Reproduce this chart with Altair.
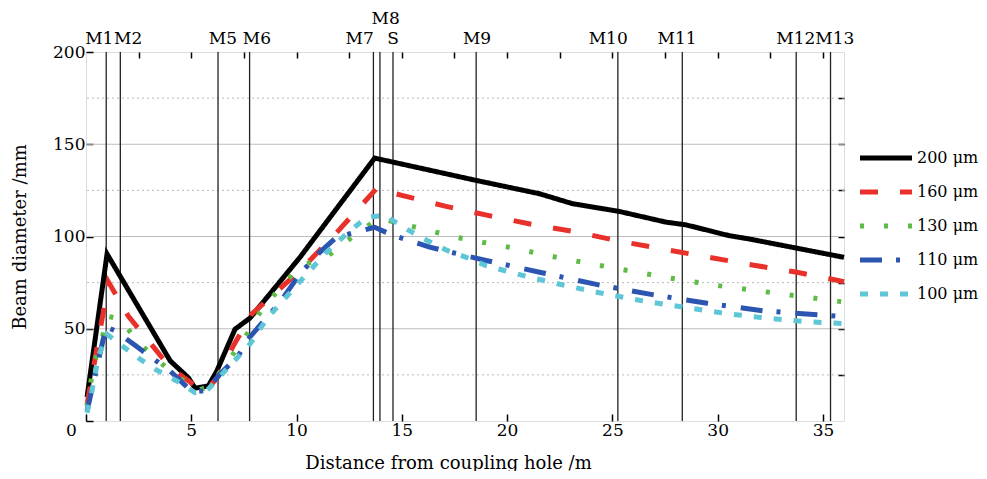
import altair as alt
import pandas as pd

# ---------------- data ----------------
series_names = ["200 μm", "160 μm", "130 μm", "110 μm", "100 μm"]
series_colors = ["#000000", "#e8312b", "#5dbb46", "#2b55b0", "#5ec6d6"]
series_dashes = [[1, 0], [18, 22], [4, 20], [22, 14, 4, 15], [8, 12]]

x_200 = [0.05, 1.0, 4.0, 4.86, 5.18, 5.81, 6.21, 7.08, 7.79, 10.16, 13.71,
         18.53, 21.53, 23.1, 25.32, 27.54, 28.5, 30.53, 31.48, 33.7, 36.0]
y_200 = [13, 90.5, 32.6, 23.5, 17.8, 19, 27, 49.8, 55.8, 88.7, 142.5,
         130.4, 123.2, 117.8, 113.6, 107.8, 106.3, 100.5, 98.7, 93.8, 88.7]

x_160 = [0.05, 1.07, 2.0, 4.0, 5.42, 5.73, 6.27, 7.0, 7.87, 10.16, 12.0, 13.8,
         15.0, 17.1, 19.2, 21.2, 23.35, 25.4, 27.5, 29.6, 31.64, 33.77, 36.0]
y_160 = [9, 75.2, 57, 29, 17.2, 16.7, 24, 40.8, 58, 81.5, 103.3, 126,
         122.3, 116.3, 111.2, 106.5, 102.3, 97.3, 93, 88.7, 84.6, 80.6, 75.5]

x_130 = [0.05, 0.36, 0.76, 0.96, 1.6, 2.57, 4.0, 5.3, 5.89, 6.76, 7.55, 8.26,
         9.13, 10.16, 11.4, 12.6, 13.9, 15.13, 17.58, 20.08, 22.56, 25.04,
         27.5, 30.01, 32.48, 34.96, 36.0]
y_130 = [8, 30.8, 43.5, 57, 55.3, 41.7, 27, 16.5, 19, 32.6, 45.3, 58.8,
         71, 84, 88.7, 99.3, 110, 106.5, 99.6, 94.2, 88.2, 83,
         77.9, 73.4, 69.7, 66, 64.5]

x_110 = [0.05, 0.95, 1.39, 2.33, 4.0, 4.79, 5.18, 5.7, 6.36, 7.23, 7.7, 9.21,
         10.16, 11.1, 11.9, 13.71, 14.5, 16.32, 19.0, 21.6, 24.29, 26.9,
         29.51, 32.15, 34.77, 36.0]
y_110 = [5.4, 51, 48.9, 41, 27, 18.5, 15.9, 16.5, 25.4, 35.3, 44.4, 64.3,
         79.7, 91.4, 99.6, 105, 101, 94.2, 87, 80.5, 73.9, 68.5,
         63.8, 59.7, 57.6, 56.5]

x_100 = [0.05, 0.28, 0.6, 1.0, 2.34, 3.28, 4.31, 5.18, 5.73, 6.68, 7.79, 8.58,
         9.84, 10.63, 11.42, 12.37, 13.32, 14.18, 15.21, 16.16, 17.1, 18.06,
         19.0, 20.9, 22.8, 24.69, 26.59, 28.48, 30.38, 32.27, 34.17, 36.0]
y_100 = [4.5, 16.3, 35.3, 47, 35.3, 28.1, 21.7, 15.4, 16.3, 28.1, 41.7, 55.3,
         71.5, 81.5, 91.4, 101.4, 110.4, 111.5, 104.1, 98.1, 92.7, 88.7,
         84.2, 78.4, 73.3, 68.8, 64.8, 61.5, 58.3, 55.8, 53.9, 52.8]

marker_names = ["M1", "M2", "M5", "M6", "M7", "M8", "S", "M9", "M10", "M11", "M12", "M13"]
marker_x = [0.96, 1.63, 6.27, 7.77, 13.65, 13.96, 14.58, 18.53, 25.26, 28.32, 33.73, 35.36]
label_x = [0.63, 2.0, 6.5, 8.12, 13.0, 14.23, 14.59, 18.57, 24.8, 28.07, 33.71, 35.56]
label_level = [0, 0, 0, 0, 0, 1, 0, 0, 0, 0, 0, 0]

x_ticks = [0, 5, 10, 15, 20, 25, 30, 35]
x_minor_ticks = [2.5, 5, 7.5, 10, 12.5, 15, 17.5, 20, 22.5, 25, 27.5, 30, 32.5, 35]
y_ticks = [0, 50, 100, 150, 200]
y_minor_ticks = [25, 50, 75, 100, 125, 150, 175]
major_grid = [50, 100, 150]
minor_grid = [25, 75, 125, 175]

# ---------------- tables ----------------
rows = []
for name, xs, ys in zip(series_names, [x_200, x_160, x_130, x_110, x_100],
                        [y_200, y_160, y_130, y_110, y_100]):
    for i, (xv, yv) in enumerate(zip(xs, ys)):
        rows.append({"series": name, "x": xv, "y": yv, "order": i})
curves = pd.DataFrame(rows)
markers = pd.DataFrame({"name": marker_names, "x": marker_x})
labels = pd.DataFrame({"name": marker_names, "lx": label_x, "level": label_level})
grid_major = pd.DataFrame({"v": major_grid})
grid_minor = pd.DataFrame({"v": minor_grid})

FONT = "DejaVu Serif"
W, H = 758, 369
xscale = alt.Scale(domain=[0, 36], nice=False, zero=False)
yscale = alt.Scale(domain=[0, 200], nice=False)

legend_cfg = dict(title=None, orient="none", legendX=792, legendY=98,
                  symbolType="M-5.2,0H5.2", symbolSize=100, symbolStrokeWidth=5,
                  labelOffset=23, labelFont=FONT, labelFontSize=16, labelLimit=300,
                  labelColor="black", rowPadding=14, padding=0)

# ---------------- layers ----------------
minor_layer = alt.Chart(grid_minor).mark_rule(
    color="#b9b9b9", strokeWidth=1, strokeDash=[2, 3]
).encode(
    y=alt.Y("v:Q", scale=yscale,
            axis=alt.Axis(orient="right", values=y_minor_ticks, labels=False,
                          ticks=True, tickSize={"expr": "-6"}, tickColor="black",
                          tickWidth=1.5, domain=False, grid=False, title=None))
)

major_layer = alt.Chart(grid_major).mark_rule(
    color="#bdbdbd", strokeWidth=1.2
).encode(y=alt.Y("v:Q", scale=yscale, axis=None))

marker_layer = alt.Chart(markers).mark_rule(
    color="#222222", strokeWidth=1.3
).encode(
    x=alt.X("x:Q", scale=xscale,
            axis=alt.Axis(orient="top", values=x_minor_ticks, labels=False,
                          ticks=True, tickSize={"expr": "-6"}, tickColor="black",
                          tickWidth=1.5, domain=False, grid=False, title=None))
)

curve_layer = alt.Chart(curves).mark_line(strokeWidth=5, strokeCap="butt").encode(
    x=alt.X("x:Q", scale=xscale,
            axis=alt.Axis(orient="bottom", values=x_ticks, tickSize={"expr": "-7"},
                          tickColor="black", tickWidth=1.5, domain=False, grid=False,
                          labelFont=FONT, labelFontSize=17, labelColor="black",
                          labelPadding=8, labelFlush=False,
                          labelOffset={"condition": {"test": "datum.value === 0", "value": -15},
                                       "value": 0},
                          title="Distance from coupling hole /m",
                          titleFont=FONT, titleFontSize=18, titleFontWeight="normal",
                          titleColor="black", titleX=362, titleY=42,
                          titleBaseline="middle", titleAnchor="middle")),
    y=alt.Y("y:Q", scale=yscale,
            axis=alt.Axis(orient="left", values=y_ticks, tickSize={"expr": "-7"},
                          tickColor="black", tickWidth=1.5, domain=False, grid=False,
                          labelFont=FONT, labelFontSize=17, labelColor="black",
                          labelPadding=8, labelFlush=False,
                          labelExpr="datum.value === 0 ? '' : datum.label",
                          title="Beam diameter /mm",
                          titleFont=FONT, titleFontSize=18, titleFontWeight="normal",
                          titleColor="black", titleX=-66, titleY=H / 2,
                          titleBaseline="middle", titleAngle=-90, titleAnchor="middle")),
    color=alt.Color("series:N", scale=alt.Scale(domain=series_names, range=series_colors),
                    legend=alt.Legend(**legend_cfg)),
    strokeDash=alt.StrokeDash("series:N",
                              scale=alt.Scale(domain=series_names, range=series_dashes),
                              legend=alt.Legend(**legend_cfg)),
    detail="series:N",
    order=alt.Order("order:Q"),
)

label_low = alt.Chart(labels).transform_filter("datum.level == 0").mark_text(
    font=FONT, fontSize=17, color="black", baseline="middle", align="center"
).encode(x=alt.X("lx:Q", scale=xscale, axis=None), y=alt.value(-13), text="name:N")

label_high = alt.Chart(labels).transform_filter("datum.level == 1").mark_text(
    font=FONT, fontSize=17, color="black", baseline="middle", align="center"
).encode(x=alt.X("lx:Q", scale=xscale, axis=None), y=alt.value(-33), text="name:N")

chart = alt.layer(
    minor_layer, major_layer, marker_layer, curve_layer, label_low, label_high
).resolve_axis(x="independent", y="independent").properties(
    width=W, height=H,
    autosize=alt.AutoSizeParams(type="none"),
    padding={"left": 78, "top": 44, "right": 135, "bottom": 50},
).configure_view(stroke="black", strokeWidth=2).configure(background="white")

chart.save("out.html", embed_options={"renderer": "svg", "actions": False})
